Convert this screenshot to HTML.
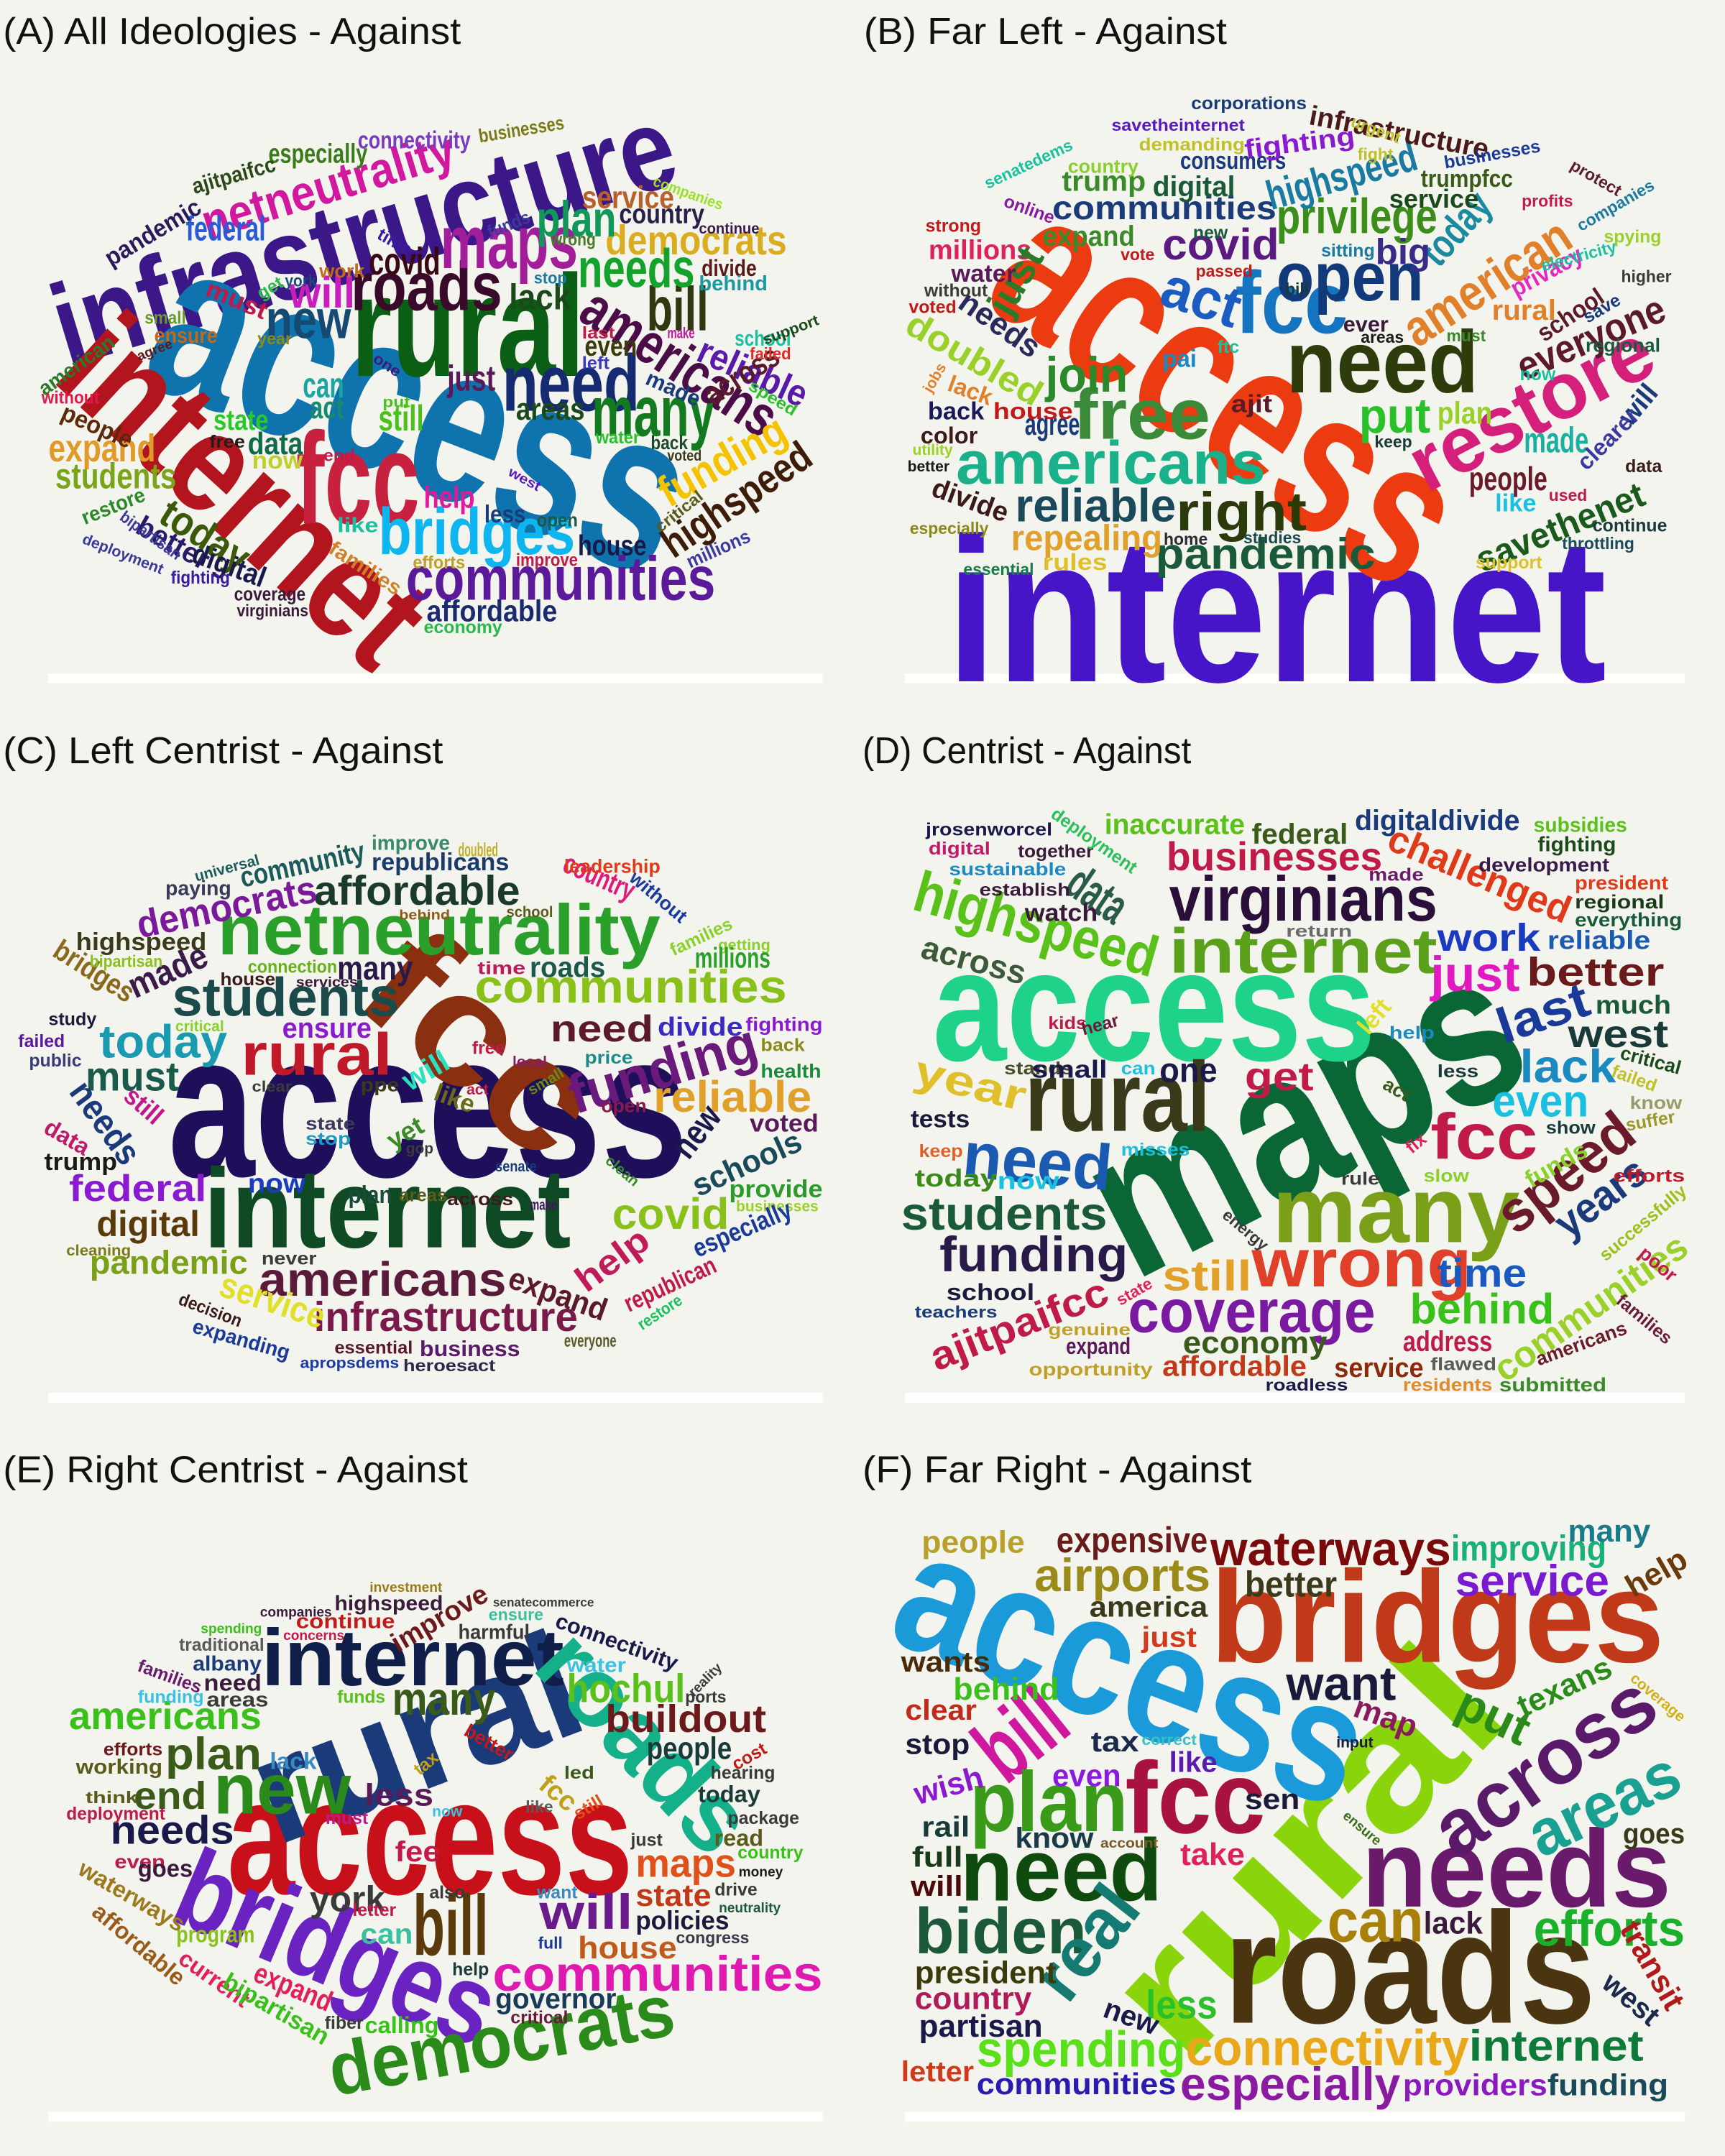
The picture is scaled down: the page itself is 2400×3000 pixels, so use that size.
<!DOCTYPE html>
<html><head><meta charset="utf-8">
<style>
html,body{margin:0;padding:0;background:#f4f4ef;}
svg{display:block;}
text{font-family:"Liberation Sans",sans-serif;}
</style></head>
<body>
<svg id="chart" xmlns="http://www.w3.org/2000/svg" width="2400" height="3000" viewBox="0 0 1254 1568">
<rect x="0" y="0" width="1254" height="1568" fill="#f4f4ef"/>
</svg>
<script>
// Each word: [word, x1, y1, x2, y2, fontSize, color]  (span of word)  or [word, cx, cy, rot, fontSize, color]
const titles = ["(A) All Ideologies - Against","(B) Far Left - Against","(C) Left Centrist - Against","(D) Centrist - Against","(E) Right Centrist - Against","(F) Far Right - Against"];
const wordsA = [
["infrastructure",42,245,490,110,85,"#3b1787"],["access",115,235,490,380,165,"#0f74ad"],["internet",55,255,290,470,105,"#b3151f"],
["rural",255,245,425,245,105,"#0b5f14"],["fcc",215,355,305,355,95,"#c8203f"],["roads",255,212,365,212,50,"#3a0a2b"],
["maps",320,180,420,180,55,"#a21d9a"],["need",365,283,465,283,58,"#152a70"],["many",430,303,520,303,52,"#137a1f"],
["americans",425,222,560,310,42,"#4a0d48"],["bridges",275,390,418,390,48,"#0fb5ef"],["communities",295,424,520,424,45,"#5a1a99"],
["affordable",310,446,405,446,22,"#1a2a6e"],["bill",470,228,515,228,45,"#2f3810"],["democrats",440,177,572,177,30,"#d9ad1f"],
["needs",420,198,505,198,40,"#13a22b"],["plan",390,162,448,162,37,"#10975a"],["funding",482,362,570,312,32,"#f3c300"],
["highspeed",485,400,588,330,30,"#3d1d0a"],["netneutrality",148,165,330,110,36,"#d1189e"],["new",193,235,255,235,40,"#174a73"],
["will",210,215,258,215,32,"#c81ebd"],["covid",268,192,320,192,28,"#3a0715"],["federal",135,168,193,168,25,"#2a5bd7"],
["service",423,145,490,145,23,"#b8602a"],["country",450,157,512,157,20,"#2a1e4a"],["especially",195,113,267,113,20,"#3a7a1a"],
["connectivity",260,103,342,103,18,"#7b3bbe"],["businesses",348,100,410,90,14,"#7a7a1a"],["ajitpaifcc",140,137,200,120,16,"#2a4a1a"],
["pandemic",78,190,145,150,18,"#2a1a5a"],["expand",35,328,113,328,28,"#e09a27"],["students",40,348,128,348,26,"#7aa51a"],
["today",118,372,178,410,30,"#3a5a0a"],["better",100,382,150,410,21,"#2a1a6a"],["digital",140,403,192,422,21,"#1a1a4a"],
["state",155,307,195,307,21,"#2ac92a"],["data",180,324,220,324,23,"#0f6b4a"],["can",220,282,250,282,26,"#1aa5a0"],
["act",225,298,250,298,23,"#178a70"],["still",275,306,308,306,26,"#4ac01a"],["just",325,277,360,277,26,"#5a1a5a"],
["areas",375,299,425,299,23,"#1a4a1a"],["lack",370,218,415,218,26,"#1a4a1a"],["even",425,253,463,253,21,"#3a3a0a"],
["help",308,363,345,363,23,"#e01a9a"],["house",420,398,470,398,21,"#1a1a4a"],["people",45,300,95,322,18,"#5a2a0a"],
["restore",60,378,105,360,15,"#2a8a2a"],["american",30,285,82,248,15,"#2a7a2a"],["without",30,290,72,290,13,"#e01a4a"],
["coverage",170,433,222,433,14,"#3a1a3a"],["virginians",172,445,224,445,12,"#3a1a3a"],["economy",308,457,365,457,13,"#2ab84a"],
["millions",500,410,545,390,14,"#3a3aa0"],["reliable",508,255,585,290,27,"#5a1aa8"],["across",515,290,565,258,23,"#5a1a2a"],
["school",534,247,575,247,16,"#1ac0a0"],["families",240,398,290,430,15,"#d0802a"],["fighting",124,421,167,421,13,"#3a1aa0"],
["deployment",60,392,118,415,11,"#3a3a9a"],["bipartisan",88,375,130,405,12,"#3a3a9a"],["efforts",300,410,338,410,13,"#c0a02a"],
["improve",375,408,420,408,13,"#c01a4a"],["less",352,375,382,375,18,"#1a3a7a"],["open",390,379,420,379,14,"#1a5a4a"],
["like",245,383,275,383,15,"#1ac0a0"],["now",183,336,220,336,18,"#c0d02a"],["free",152,322,178,322,13,"#2a1a1a"],
["ensure",112,245,158,245,16,"#c06a1a"],["small",105,232,135,232,13,"#6a9a2a"],["water",433,319,465,319,13,"#2ac02a"],
["back",473,323,500,323,14,"#1a4a2a"],["voted",485,332,510,332,11,"#3a3a1a"],["support",555,248,595,233,11,"#1a4a1a"],
["failed",545,258,575,258,12,"#e02a2a"],["speed",545,280,578,300,12,"#2ac02a"],["critical",478,385,510,360,12,"#5a5a1a"],
["companies",475,132,525,150,11,"#9ae02a"],["continue",508,167,552,167,11,"#3a1a4a"],["divide",510,196,550,196,17,"#5a1a1a"],
["behind",508,207,558,207,15,"#1a9aa0"],["wrong",400,175,433,175,13,"#4a7a2a"],["stop",388,203,412,203,12,"#1a7aa0"],
["funds",355,170,385,158,13,"#3a3a9a"],["time",275,170,298,183,13,"#3a1aa0"],["york",207,205,230,205,12,"#1a4a7a"],
["get",188,215,205,205,13,"#2ab84a"],["work",232,198,265,198,14,"#c06a1a"],["must",150,210,193,228,18,"#c01a4a"],
["year",187,247,212,247,12,"#8a8a1a"],["agree",100,260,125,250,10,"#5a1a1a"],["last",423,243,447,243,12,"#c01a4a"],
["left",423,265,443,265,13,"#3a3ac0"],["made",470,275,508,292,16,"#1a3a7a"],["one",272,260,290,272,11,"#3a1a7a"],
["put",278,293,298,293,11,"#4ac01a"],["end",235,332,258,332,12,"#c01a4a"],["west",370,343,392,355,10,"#5a1ac0"],["make",485,243,505,243,11,"#c01a9a"]
];
const wordsB = [
["internet",688,455,1168,455,150,"#4615c8"],["access",735,185,1040,400,150,"#ec3b10"],["restore",1030,345,1200,255,58,"#d4207a"],
["need",935,268,1075,268,64,"#2e3b0a"],["fcc",898,225,980,225,64,"#1474c0"],["open",928,205,1035,205,50,"#123a7a"],
["act",845,210,900,228,42,"#1a5cc0"],["privilege",928,160,1045,160,36,"#3c8e1a"],["covid",845,180,930,180,32,"#5a1a80"],
["communities",765,153,928,153,24,"#1a3a7a"],["highspeed",922,145,1030,115,30,"#1a7aa0"],["infrastructure",952,85,1082,110,20,"#4a1a1a"],
["today",1040,190,1080,145,30,"#1a8aa0"],["american",1025,245,1140,170,37,"#e0802a"],["big",1000,185,1040,185,26,"#3a2a8a"],
["free",780,305,880,305,52,"#3a8a3a"],["americans",695,340,920,340,44,"#1ab08a"],["join",760,275,820,275,36,"#2a8a2a"],
["reliable",738,370,855,370,34,"#1a4a5a"],["right",855,375,950,375,40,"#2a3a0a"],["pandemic",840,405,1000,405,32,"#1a5a3a"],
["repealing",735,393,845,393,26,"#e0a02a"],["rules",758,410,805,410,17,"#e0c02a"],["put",988,305,1040,305,36,"#2ac02a"],
["plan",1045,302,1085,302,23,"#9ad02a"],["people",1068,350,1125,350,24,"#6a1a2a"],["made",1108,322,1155,322,26,"#1ab0a0"],
["savethenet",1075,410,1195,360,26,"#1a5a1a"],["everyone",1105,270,1210,225,29,"#5a1a2a"],["doubled",660,235,755,290,26,"#9ad02a"],
["millions",675,183,750,183,20,"#e0205a"],["agree",745,310,785,310,23,"#1a3a7a"],["house",722,300,780,300,17,"#c01a1a"],
["just",740,205,-60,29,"#2a7a2a"],["needs",726,237,35,23,"#2a2a5a"],["trump",772,133,833,133,21,"#3a8a2a"],
["digital",838,137,898,137,21,"#1a5a3a"],["consumers",858,118,935,118,18,"#1a3a7a"],["expand",758,173,825,173,21,"#3a8a2a"],
["privacy",1100,212,1150,185,18,"#e02ac0"],["school",1120,245,1165,215,18,"#5a1a2a"],["fighting",905,110,985,100,19,"#8a1ad0"],
["trumpfcc",1033,131,1100,131,18,"#3a5a1a"],["service",1010,146,1075,146,19,"#1a4a1a"],["ajit",895,295,925,295,18,"#5a1a2a"],
["pai",845,262,870,262,18,"#1a8ac0"],["corporations",866,76,950,76,13,"#1a3a7a"],["savetheinternet",808,92,905,92,12,"#5a1ac0"],
["demanding",828,106,905,106,13,"#c0c02a"],["urgent",1000,95,20,12,"#c0c02a"],["businesses",1085,113,-10,13,"#1a3a9a"],
["protect",1160,130,30,12,"#5a1a2a"],["profits",1125,147,0,12,"#c01a4a"],["companies",1175,150,-30,12,"#1a7aa0"],
["spying",1187,173,0,13,"#9ad02a"],["electricity",1148,187,-15,12,"#1ac0a0"],["higher",1197,202,0,12,"#3a3a3a"],
["save",1165,225,-30,13,"#1a3a7a"],["regional",1180,252,0,14,"#1a5a3a"],["will",1192,295,-50,20,"#1a3a7a"],
["clearer",1170,320,-45,17,"#3a3aa0"],["data",1195,340,0,13,"#3a1a1a"],["continue",1185,383,0,13,"#1a3a3a"],
["throttling",1162,396,0,12,"#1a4a5a"],["used",1140,361,0,12,"#c01a4a"],["like",1102,367,0,18,"#1ac0e0"],
["support",1097,410,0,13,"#e0c02a"],["rural",1108,227,0,21,"#e0802a"],["must",1066,245,0,12,"#3a8a2a"],["now",1118,273,0,13,"#1ac0a0"],
["areas",1005,246,0,12,"#1a1a1a"],["ever",993,237,0,16,"#3a1a3a"],["keep",1013,322,0,12,"#1a3a3a"],["studies",925,392,0,12,"#1a4a4a"],
["home",862,393,0,12,"#2a2a2a"],["strong",693,165,0,13,"#c01a1a"],["online",748,153,20,13,"#8a1aa0"],["senatedems",748,120,-25,12,"#1ac0a0"],
["country",802,122,0,14,"#8ad02a"],["water",715,200,0,18,"#5a1a5a"],["without",695,212,0,13,"#3a3a3a"],["voted",678,224,0,13,"#c01a1a"],
["jobs",680,275,-60,11,"#e0802a"],["back",695,300,0,18,"#1a1a5a"],["lack",705,285,20,17,"#e0802a"],["color",690,318,0,17,"#3a1a1a"],
["utility",678,328,0,11,"#9ad02a"],["better",675,340,0,11,"#1a1a1a"],["divide",705,365,20,20,"#3a1a1a"],["especially",690,385,0,12,"#8a8a1a"],
["essential",726,415,0,12,"#1a7a4a"],["ftc",893,253,0,13,"#1ac0a0"],["new",880,170,0,13,"#1a5a3a"],["passed",890,198,0,12,"#c01a1a"],
["vote",827,186,0,12,"#c01a1a"],["sitting",980,183,0,13,"#1a7aa0"],["bill",943,211,0,12,"#1a3a3a"],["fight",1000,113,0,12,"#c0c02a"]
];
const wordsC = [
["access",122,815,500,815,150,"#1f0f5a"],["fcc",275,705,415,825,115,"#8a3010"],["internet",148,885,415,885,82,"#0f4a25"],
["netneutrality",158,680,480,680,52,"#2aa02a"],["communities",345,720,572,720,34,"#8ac01a"],["funding",415,800,550,760,40,"#6a1a7a"],
["reliable",475,800,590,800,32,"#e0a02a"],["students",125,728,290,728,40,"#1a4a4a"],["today",72,760,165,760,34,"#1a9ab0"],
["rural",175,770,285,770,43,"#c01a2a"],["americans",188,933,368,933,35,"#5a1a3a"],["infrastructure",228,960,420,960,30,"#7a1a4a"],
["pandemic",65,920,180,920,24,"#7aa01a"],["digital",70,892,145,892,26,"#5a3a0a"],["federal",50,866,150,866,27,"#8a1ad0"],
["must",62,785,130,785,30,"#1a5a4a"],["needs",55,790,95,845,26,"#1a3a7a"],["still",92,795,115,815,19,"#c01a8a"],
["affordable",228,650,378,650,30,"#1a3a2a"],["democrats",100,675,230,648,28,"#7a1a9a"],["community",175,640,265,620,21,"#1a5a5a"],
["republicans",270,628,370,628,18,"#1a3a6a"],["country",410,628,460,650,21,"#e01a7a"],["made",95,720,150,695,26,"#3a1a4a"],
["highspeed",55,686,150,686,18,"#3a3a1a"],["bridges",40,690,95,725,21,"#8a6a1a"],["covid",445,885,530,885,32,"#8ac01a"],
["new",495,840,520,808,26,"#1a1a4a"],["schools",505,865,582,830,23,"#1a4a5a"],["need",400,750,475,750,27,"#5a1a2a"],
["divide",478,748,540,748,19,"#3a2ac0"],["help",422,935,470,900,26,"#c01a5a"],["service",160,935,235,960,26,"#e0e02a"],
["expand",370,930,440,955,23,"#5a1a2a"],["ensure",205,749,270,749,21,"#8a1ad0"],["will",310,780,-30,22,"#2ae0c0"],
["yet",295,825,-30,19,"#3a8a2a"],["like",330,800,20,18,"#6a6a1a"],["free",355,763,0,13,"#c01a4a"],["many",245,706,300,706,24,"#2a1a4a"],
["roads",385,705,440,705,21,"#1a5a4a"],["connection",180,704,245,704,13,"#6ab01a"],["plan",253,870,285,870,18,"#1a4a3a"],
["areas",290,870,325,870,13,"#5a5a1a"],["now",180,862,222,862,20,"#1a3ac0"],["voted",545,818,595,818,18,"#5a1a5a"],
["provide",530,866,598,866,18,"#2a9a2a"],["businesses",535,878,595,878,11,"#9ad02a"],["especially",505,910,575,880,19,"#1a3a9a"],
["republican",455,950,520,920,18,"#c01a4a"],["restore",465,965,495,945,12,"#1ac05a"],["business",305,982,378,982,16,"#5a1a6a"],
["everyone",410,976,448,976,13,"#5a5a2a"],["heroesact",293,994,360,994,12,"#2a2a4a"],["essential",243,981,300,981,13,"#5a1a2a"],
["apropsdems",218,992,290,992,11,"#1a3aa0"],["expanding",140,965,210,985,15,"#1a3a9a"],["decision",130,945,175,962,13,"#3a1a1a"],
["never",190,916,230,916,13,"#3a3a3a"],["cleaning",48,910,95,910,11,"#7a7a1a"],["trump",32,846,85,846,18,"#1a1a1a"],
["data",48,828,30,17,"#c01a6a"],["public",40,772,0,13,"#3a3a7a"],["failed",30,758,0,13,"#5a1aa0"],["study",35,742,70,742,13,"#1a1a3a"],
["bipartisan",65,700,118,700,12,"#8ac01a"],["paying",120,647,168,647,15,"#3a3a5a"],["universal",165,632,-15,11,"#1a5a5a"],
["improve",270,614,327,614,15,"#3a8a6a"],["doubled",333,619,362,619,14,"#c0b02a"],["leadership",410,631,480,631,14,"#e03a1a"],
["without",478,653,40,14,"#1a3aa0"],["families",510,682,-25,13,"#8ad02a"],["getting",522,688,560,688,11,"#8ad02a"],
["millions",505,698,560,698,21,"#2aa02a"],["fighting",542,746,598,746,14,"#8a1ad0"],["back",553,761,585,761,13,"#8a8a1a"],
["health",553,780,597,780,14,"#1a8a3a"],["time",347,705,382,705,13,"#c01a5a"],["school",368,664,402,664,11,"#5a5a1a"],
["behind",290,666,327,666,10,"#8a5a1a"],["house",160,713,200,713,13,"#3a1a1a"],["services",215,715,260,715,10,"#3a1a3a"],
["critical",145,747,0,11,"#8ad02a"],["small",397,787,-30,11,"#6a8a1a"],["local",385,773,0,11,"#8a1a6a"],["price",425,770,460,770,13,"#1a8a8a"],
["open",437,805,470,805,14,"#8a1a4a"],["state",222,818,258,818,13,"#3a3a5a"],["stop",222,829,255,829,13,"#1a9ac0"],
["clear",183,791,212,791,11,"#3a3a3a"],["ppe",262,790,290,790,14,"#3a3a1a"],["gop",295,836,315,836,11,"#3a3a3a"],
["senate",360,849,390,849,11,"#1a3a7a"],["make",385,877,405,877,11,"#3a1a5a"],["across",325,873,373,873,13,"#3a1a1a"],
["clean",452,852,40,11,"#3a8a2a"],["act",347,793,0,11,"#c01a4a"]
];
const wordsD = [
["maps",805,895,1100,745,155,"#0b6635"],["access",678,740,1000,740,115,"#1fd28a"],["rural",745,803,880,803,72,"#3a3a1a"],
["virginians",850,657,1045,657,46,"#2a0f3a"],["internet",850,695,1045,695,46,"#5aa01a"],["many",925,885,1105,885,68,"#7aa01a"],
["wrong",910,922,1070,922,50,"#e0402a"],["coverage",820,957,1000,957,44,"#7a1aa0"],["highspeed",665,650,840,700,42,"#5ac01a"],
["data",778,640,815,665,36,"#2a5a4a"],["businesses",848,625,1005,625,29,"#c01a4a"],["challenged",1010,610,1140,665,28,"#e03a1a"],
["just",1040,711,1105,711,36,"#e01ac0"],["work",1045,684,1120,684,28,"#1a3ac0"],["better",1110,709,1210,709,29,"#6a1a1a"],
["last",1090,750,1155,728,36,"#1a3a9a"],["west",1140,754,1213,754,28,"#1a3a3a"],["lack",1105,778,1175,778,34,"#1a8ac0"],
["even",1085,803,1155,803,33,"#1ac0e0"],["fcc",1040,830,1118,830,47,"#c01a4a"],["speed",1095,890,1185,820,42,"#6a1a2a"],
["years",1135,895,1195,850,31,"#1a3a7a"],["time",1045,928,1110,928,29,"#1a5ac0"],["behind",1025,954,1130,954,31,"#3ac01a"],
["communities",1090,1000,1225,905,27,"#9ad02a"],["funding",683,915,820,915,36,"#2a1a4a"],["students",655,885,805,885,34,"#1a5a3a"],
["need",700,843,808,853,47,"#1a5ab0"],["year",665,780,745,800,31,"#e0c02a"],["across",670,690,745,710,24,"#3a5a3a"],
["get",905,785,955,785,29,"#c01a4a"],["one",843,780,885,780,25,"#1a1a4a"],["still",845,930,910,930,31,"#e0a02a"],
["ajitpaifcc",678,990,805,940,29,"#c01a4a"],["economy",860,978,965,978,23,"#3a5a1a"],["affordable",845,995,950,995,21,"#c03a1a"],
["address",1020,977,1085,977,21,"#c01a4a"],["service",970,996,1035,996,20,"#8a2a0a"],["federal",910,608,980,608,21,"#3a5a1a"],
["inaccurate",803,601,905,601,21,"#5ac01a"],["digitaldivide",985,598,1105,598,21,"#1a3a7a"],["subsidies",1115,601,1183,601,15,"#5ac01a"],
["fighting",1118,615,1175,615,15,"#1a4a1a"],["development",1075,630,1170,630,14,"#3a1a4a"],["president",1145,643,1213,643,14,"#e03a1a"],
["regional",1145,657,1210,657,14,"#1a3a1a"],["everything",1145,670,1223,670,14,"#1a5a3a"],["reliable",1125,685,1200,685,19,"#1a5ab0"],
["much",1160,732,1215,732,19,"#1a5a3a"],["critical",1200,772,15,14,"#1a4a1a"],["failed",1188,785,20,13,"#c0c02a"],
["know",1185,803,1223,803,13,"#9a9a6a"],["suffer",1200,816,-10,13,"#9a9a2a"],["show",1124,821,1160,821,13,"#1a3a3a"],
["funds",1132,848,-30,18,"#8ad02a"],["efforts",1173,856,1225,856,13,"#c01a2a"],["successfully",1195,890,-40,13,"#9ac01a"],
["poor",1205,920,40,14,"#c01a4a"],["families",1195,960,40,13,"#6a1a3a"],["americans",1150,978,-20,14,"#6a1a2a"],
["submitted",1090,1008,1168,1008,14,"#3a8a2a"],["flawed",1040,993,1088,993,13,"#5a5a5a"],["residents",1020,1008,1085,1008,13,"#e08a2a"],
["roadless",920,1008,980,1008,12,"#1a1a4a"],["opportunity",748,997,838,997,13,"#c0a02a"],["expand",775,980,822,980,17,"#5a1a5a"],
["genuine",762,968,822,968,12,"#c0a02a"],["teachers",665,955,725,955,12,"#1a3a7a"],["school",688,941,752,941,17,"#1a1a3a"],
["state",825,940,-30,12,"#e0205a"],["rule",975,858,1003,858,13,"#3a3a3a"],["slow",1035,856,1068,856,13,"#8ad02a"],
["energy",905,895,40,12,"#3a3a3a"],["fix",1030,832,-40,13,"#e0205a"],["act",1015,793,30,14,"#3a5a1a"],["less",1045,780,1075,780,13,"#1a3a3a"],
["help",1010,752,1043,752,13,"#1a8ac0"],["left",1000,740,-50,18,"#e0e02a"],["return",935,678,983,678,12,"#6a6a6a"],
["made",995,637,1035,637,13,"#6a1a6a"],["watch",745,665,798,665,18,"#3a1a3a"],["establish",712,648,778,648,13,"#3a1a3a"],
["sustainable",690,633,775,633,13,"#1a8ac0"],["digital",675,618,720,618,13,"#c01a6a"],["together",740,620,795,620,13,"#3a1a3a"],
["jrosenworcel",673,604,765,604,13,"#1a1a4a"],["deployment",795,612,35,13,"#2ac05a"],["kids",762,745,790,745,13,"#c01a4a"],
["hear",800,746,-15,13,"#6a1a3a"],["stands",730,778,780,778,13,"#4a4a2a"],["small",750,779,805,779,18,"#1a1a4a"],
["can",815,778,840,778,13,"#1ac0e0"],["tests",662,815,705,815,18,"#1a1a3a"],["keep",668,838,700,838,13,"#e0602a"],
["misses",815,837,865,837,13,"#1ac0e0"],["today",665,858,725,858,18,"#3a8a1a"],["now",725,860,770,860,18,"#1ac0e0"]
];
const wordsE = [
["access",165,1345,460,1345,120,"#c8101a"],["rural",190,1315,420,1228,110,"#1a3a7a"],["internet",190,1210,410,1210,58,"#0f1f4a"],
["roads",400,1200,530,1340,72,"#13b08a"],["bridges",130,1375,355,1470,82,"#6a22c0"],["democrats",240,1510,490,1465,54,"#2a8a1a"],
["bill",300,1405,355,1405,62,"#5a3a0a"],["new",155,1305,255,1305,52,"#2a8a1a"],["plan",120,1278,190,1278,33,"#3a5a1a"],
["americans",50,1250,190,1250,28,"#3ac01a"],["communities",358,1438,598,1438,36,"#e01ab0"],["will",392,1393,460,1393,36,"#6a1a8a"],
["maps",462,1357,535,1357,29,"#e0501a"],["house",420,1418,492,1418,23,"#c05a1a"],["state",462,1380,517,1380,23,"#c03a1a"],
["policies",462,1398,530,1398,19,"#1a1a3a"],["buildout",440,1252,557,1252,28,"#6a1a1a"],["hochul",412,1230,498,1230,29,"#5ac01a"],
["people",470,1273,532,1273,23,"#1a3a3a"],["many",285,1238,360,1238,34,"#3a5a1a"],["needs",80,1333,170,1333,29,"#1a1a4a"],
["end",97,1308,150,1308,28,"#3a5a1a"],["york",225,1383,280,1383,26,"#3a3a3a"],["expand",185,1435,240,1458,21,"#e0205a"],
["fee",287,1348,320,1348,21,"#c01a4a"],["less",265,1307,315,1307,23,"#5a1a5a"],["governor",360,1455,448,1455,21,"#1a3a5a"],
["can",262,1408,300,1408,21,"#3ac0a0"],["improve",320,1178,-30,20,"#6a1a1a"],["highspeed",243,1167,322,1167,15,"#3a1a3a"],
["continue",215,1180,287,1180,15,"#c01a1a"],["connectivity",448,1195,20,16,"#1a1a4a"],["harmful",333,1188,385,1188,15,"#3a3a3a"],
["ensure",355,1175,395,1175,12,"#3ac0a0"],["water",412,1212,455,1212,15,"#3ac0e0"],["traditional",130,1197,192,1197,13,"#5a5a5a"],
["albany",140,1211,190,1211,15,"#1a3a7a"],["need",148,1225,190,1225,17,"#3a1a3a"],["areas",150,1237,195,1237,15,"#3a3a3a"],
["funds",245,1235,280,1235,13,"#5ac01a"],["families",123,1220,20,13,"#6a1a6a"],["funding",100,1235,148,1235,13,"#3ac0e0"],
["efforts",75,1273,118,1273,13,"#6a1a1a"],["working",55,1286,118,1286,15,"#5a5a1a"],["think",62,1308,100,1308,12,"#5a5a1a"],
["deployment",48,1320,120,1320,13,"#c01a4a"],["even",83,1355,120,1355,14,"#c01a4a"],["goes",100,1360,140,1360,18,"#3a1a3a"],
["waterways",95,1380,30,17,"#9a7a1a"],["affordable",100,1415,40,17,"#9a5a1a"],["program",128,1408,185,1408,17,"#8ac01a"],
["current",155,1440,35,17,"#e0205a"],["bipartisan",200,1462,30,18,"#3ac01a"],["lack",196,1282,230,1282,17,"#3a8ac0"],
["must",252,1323,0,13,"#c01a8a"],["tax",310,1283,-40,13,"#c0a01a"],["led",410,1290,432,1290,13,"#3a5a1a"],["fcc",405,1305,40,20,"#c0a01a"],
["still",428,1315,-30,13,"#e0501a"],["better",355,1268,30,14,"#c01a1a"],["like",392,1315,0,12,"#5a5a5a"],["now",325,1318,0,11,"#3ac0e0"],
["letter",272,1390,0,13,"#c01a4a"],["also",325,1377,0,13,"#3a3a3a"],["want",405,1377,0,13,"#3a8ac0"],["full",400,1414,0,12,"#1a3a9a"],
["help",342,1433,0,13,"#1a3a3a"],["critical",392,1468,0,13,"#6a1a3a"],["fiber",250,1472,0,13,"#3a3a3a"],["calling",292,1474,0,17,"#3ac01a"],
["just",470,1339,0,13,"#3a3a3a"],["read",537,1338,0,17,"#5a5a1a"],["today",530,1306,0,17,"#1a3a3a"],["package",555,1323,0,13,"#3a3a3a"],
["country",560,1348,0,13,"#3ac01a"],["money",553,1362,0,10,"#1a1a1a"],["drive",535,1375,0,13,"#3a3a3a"],["neutrality",545,1388,0,10,"#1a5a3a"],
["congress",518,1410,0,12,"#3a3a4a"],["cost",545,1278,-30,13,"#c01a1a"],["hearing",540,1290,0,13,"#3a3a3a"],["ports",513,1235,0,12,"#3a3a3a"],
["reality",513,1222,-45,10,"#3a3a3a"],["investment",295,1155,0,10,"#9a7a1a"],["companies",215,1173,0,10,"#3a1a3a"],["spending",168,1185,0,10,"#3ac01a"],
["senatecommerce",395,1166,0,9,"#3a3a3a"],["concerns",228,1190,0,10,"#c01a4a"]
];
const wordsF = [
["rural",835,1480,1075,1225,130,"#8ad40c"],["roads",890,1440,1160,1440,115,"#4a3510"],["access",655,1160,985,1285,125,"#1a9ad8"],
["bridges",880,1183,1210,1183,95,"#c03a1a"],["needs",990,1365,1215,1365,80,"#6a1a6a"],["across",1050,1340,1200,1235,58,"#5a1a6a"],
["areas",1115,1340,1220,1290,47,"#1aa090"],["fcc",818,1313,920,1313,74,"#a8123e"],["bill",720,1285,770,1245,66,"#d0189e"],
["plan",705,1315,820,1315,62,"#3a9a1a"],["need",698,1365,845,1365,64,"#0f4a0f"],["biden",665,1408,790,1408,47,"#1a5a3a"],
["real",765,1450,820,1380,52,"#147a72"],["can",965,1400,1035,1400,44,"#a8800a"],["efforts",1115,1405,1225,1405,37,"#1ab02a"],
["spending",710,1493,862,1493,37,"#5ae01a"],["connectivity",862,1492,1068,1492,37,"#e8a81a"],["internet",1068,1490,1195,1490,32,"#0e7a3a"],
["especially",858,1518,1018,1518,34,"#8a1aa0"],["communities",710,1517,855,1517,22,"#2a1ab0"],["providers",1020,1518,1125,1518,22,"#8a1ac0"],
["funding",1125,1518,1213,1518,22,"#1a4a5a"],["letter",655,1508,708,1508,21,"#d03a1a"],["partisan",668,1475,758,1475,23,"#1a1a4a"],
["country",665,1455,750,1455,23,"#b01a5a"],["president",665,1436,768,1436,23,"#3a3a0a"],["waterways",880,1129,1055,1129,35,"#7a0a0a"],
["improving",1055,1128,1168,1128,26,"#1ab07a"],["service",1058,1152,1170,1152,32,"#7a1ad0"],["many",1140,1115,1200,1115,23,"#1a7a8a"],
["help",1205,1145,-30,23,"#6a3a0a"],["expensive",768,1122,878,1122,26,"#6a1a1a"],["airports",752,1148,880,1148,34,"#9a8a1a"],
["people",670,1123,745,1123,23,"#b8a02a"],["better",905,1154,972,1154,26,"#3a3a1a"],["america",792,1170,878,1170,21,"#3a3a1a"],
["want",935,1227,1015,1227,35,"#1a1a3a"],["just",830,1192,870,1192,21,"#d03a1a"],["wants",655,1210,720,1210,21,"#4a2a0a"],
["behind",693,1230,770,1230,23,"#3ac01a"],["clear",658,1245,710,1245,21,"#c02a1a"],["stop",658,1270,705,1270,21,"#1a1a3a"],
["wish",690,1300,-15,23,"#8a1ad0"],["rail",670,1330,705,1330,21,"#1a3a3a"],["full",663,1352,700,1352,21,"#1a3a1a"],
["will",662,1373,700,1373,21,"#4a0a0a"],["tax",793,1268,828,1268,21,"#1a2a4a"],["correct",830,1266,870,1266,11,"#3ac0c0"],
["like",850,1283,885,1283,21,"#5a1ab0"],["even",765,1293,815,1293,23,"#8a1ae0"],["sen",905,1310,945,1310,21,"#1a1a3a"],
["put",1085,1250,25,35,"#2a8a1a"],["texans",1138,1228,-25,23,"#2a8a1a"],["map",1007,1250,20,23,"#8a1a5a"],["input",985,1268,0,11,"#1a1a3a"],
["coverage",1205,1235,40,11,"#d0b01a"],["goes",1180,1335,1225,1335,21,"#3a3a1a"],["know",738,1338,795,1338,21,"#1a3a4a"],
["account",800,1341,842,1341,10,"#7a5a2a"],["take",858,1350,905,1350,23,"#e0205a"],["ensure",990,1330,40,10,"#3a6a1a"],
["lack",1035,1400,1078,1400,23,"#3a1a3a"],["less",833,1460,885,1460,29,"#2ac02a"],["new",822,1468,20,21,"#1a1a4a"],
["transit",1200,1430,60,23,"#b01a1a"],["west",1185,1455,40,21,"#1a2a4a"]
];
const panels = [wordsA, wordsB, wordsC, wordsD, wordsE, wordsF];
const panelNames = ["all-ideologies","far-left","left-centrist","centrist","right-centrist","far-right"];
const titleX = [2,628,2,627,2,627];
const titleY = [32,32,555,555,1078,1078];
const titleW = [333,264,320,239,338,283];

const NS = "http://www.w3.org/2000/svg";
const svg = document.getElementById("chart");
function mk(tag, attrs){const e=document.createElementNS(NS,tag);for(const k in attrs)e.setAttribute(k,attrs[k]);return e;}

panels.forEach((words, p) => {
  const g = mk("g", {});
  
  
  svg.appendChild(g);
  const col = p % 2, row = Math.floor(p / 2);
  const ox = col ? 658 : 35, oy = 490 + row * 523;
  const strip = mk("rect", {x: ox, y: oy, width: col ? 567 : 563, height: 7, fill: "#ffffff"});
  
  
  g.appendChild(strip);
  const t = mk("text", {x: titleX[p], y: titleY[p], "font-size": 27, fill: "#111", textLength: titleW[p], lengthAdjust: "spacingAndGlyphs"});
  t.textContent = titles[p];
  
  
  g.appendChild(t);
  words.forEach(w => {
    let cx, cy, rot, fs, color, len = null;
    if (w.length === 7) {
      cx = (w[1] + w[3]) / 2; cy = (w[2] + w[4]) / 2;
      rot = Math.atan2(w[4] - w[2], w[3] - w[1]) * 180 / Math.PI;
      len = Math.hypot(w[3] - w[1], w[4] - w[2]);
      fs = w[5]; color = w[6];
    } else {
      cx = w[1]; cy = w[2]; rot = w[3]; fs = w[4]; color = w[5];
    }
    const attrs = {x: 0, y: fs * 0.27, "text-anchor": "middle", "font-size": fs, "font-weight": "bold", fill: color,
      transform: "translate(" + cx.toFixed(1) + "," + cy.toFixed(1) + ") rotate(" + rot.toFixed(1) + ")"};
    if (len) { attrs.textLength = len.toFixed(1); attrs.lengthAdjust = "spacingAndGlyphs"; }
    const e = mk("text", attrs);
    e.textContent = w[0];
    
    
    g.appendChild(e);
  });
});
</script>
</body></html>
